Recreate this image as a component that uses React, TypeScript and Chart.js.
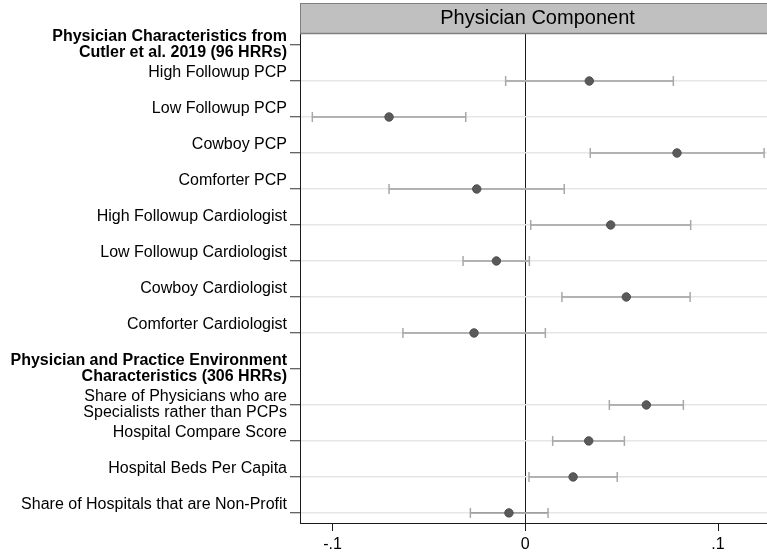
import { useEffect, useRef } from "react";
import { Chart, registerables } from "chart.js";

Chart.register(...registerables);

const FONT = '"Liberation Sans", Arial, Helvetica, sans-serif';

const panelTitle = "Physician Component";

const rowLabels: string[][] = [
  ["Physician Characteristics from", "Cutler et al. 2019 (96 HRRs)"],
  ["High Followup PCP", ""],
  ["Low Followup PCP", ""],
  ["Cowboy PCP", ""],
  ["Comforter PCP", ""],
  ["High Followup Cardiologist", ""],
  ["Low Followup Cardiologist", ""],
  ["Cowboy Cardiologist", ""],
  ["Comforter Cardiologist", ""],
  ["Physician and Practice Environment", "Characteristics (306 HRRs)"],
  ["Share of Physicians who are", "Specialists rather than PCPs"],
  ["Hospital Compare Score", ""],
  ["Hospital Beds Per Capita", ""],
  ["Share of Hospitals that are Non-Profit", ""],
];

const headerRows = [0, 9];

const estimates: (number | null)[] = [
  null, 0.0332, -0.0707, 0.0787, -0.0252, 0.0443, -0.015, 0.0524, -0.0266,
  null, 0.0628, 0.0329, 0.0248, -0.0085,
];
const lowerCI: (number | null)[] = [
  null, -0.0102, -0.1105, 0.0337, -0.0707, 0.0028, -0.0323, 0.019, -0.0635,
  null, 0.0436, 0.0142, 0.0019, -0.0285,
];
const upperCI: (number | null)[] = [
  null, 0.0768, -0.0309, 0.1239, 0.0202, 0.0858, 0.0021, 0.0855, 0.0104,
  null, 0.082, 0.0514, 0.0477, 0.0118,
];

const xTicks = [-0.1, 0, 0.1];
const xMin = -0.1169;
const xMax = 0.1254;
// the panel (and its title strip) continues slightly past the visible edge
const panelXMax = 0.1296;

const fmtTick = (v: number) =>
  v === 0 ? "0" : (v < 0 ? "-" : "") + String(Math.abs(v)).replace(/^0/, "");

const headerPlugin = {
  id: "panelHeader",
  afterDraw(chart: any) {
    const { ctx, chartArea } = chart;
    const xs = chart.scales.x;
    const w = chartArea.right - chartArea.left;
    ctx.save();
    ctx.fillStyle = "#c0c0c0";
    ctx.fillRect(chartArea.left, 3, w + 10, 31);
    ctx.strokeStyle = "#7f7f7f";
    ctx.lineWidth = 1;
    ctx.strokeRect(chartArea.left + 0.5, 3.5, w + 10, 30);
    ctx.beginPath();
    ctx.lineWidth = 1.5;
    ctx.moveTo(chartArea.left, 33.5);
    ctx.lineTo(chartArea.right + 10, 33.5);
    ctx.stroke();
    ctx.fillStyle = "#000";
    ctx.font = `20px ${FONT}`;
    ctx.textAlign = "center";
    ctx.textBaseline = "middle";
    ctx.fillText(panelTitle, xs.getPixelForValue((xMin + panelXMax) / 2), 18.5);
    ctx.restore();
  },
};

export default function App() {
  const ref = useRef<HTMLCanvasElement>(null);

  useEffect(() => {
    const canvas = ref.current!;
    const rows = rowLabels.map((_, i) => i);

    const ciLine = rows.flatMap((i) =>
      lowerCI[i] == null
        ? []
        : [
            { x: lowerCI[i], y: i },
            { x: upperCI[i], y: i },
            { x: null, y: null },
          ]
    );
    const caps = rows.flatMap((i) =>
      lowerCI[i] == null
        ? []
        : [
            { x: lowerCI[i], y: i },
            { x: upperCI[i], y: i },
          ]
    );
    const points = rows
      .filter((i) => estimates[i] != null)
      .map((i) => ({ x: estimates[i], y: i }));

    const chart = new Chart(canvas, {
      type: "scatter",
      data: {
        datasets: [
          {
            type: "scatter",
            data: points as any,
            pointRadius: 4.2,
            pointBackgroundColor: "#5a5a5a",
            pointBorderColor: "#4d4d4d",
            pointBorderWidth: 1,
            order: 0,
          },
          {
            type: "line",
            data: ciLine as any,
            borderColor: "#a0a0a0",
            borderWidth: 1.6,
            pointRadius: 0,
            spanGaps: false,
            fill: false,
            order: 2,
          } as any,
          {
            type: "scatter",
            data: caps as any,
            pointStyle: "line",
            rotation: 90,
            pointRadius: 5,
            pointBorderColor: "#a8a8a8",
            pointBorderWidth: 1.5,
            order: 1,
          } as any,
        ],
      },
      options: {
        responsive: false,
        animation: false,
        devicePixelRatio: 1,
        layout: {
          autoPadding: false,
          padding: { top: 34, left: 0, right: 0, bottom: 0 },
        },
        plugins: {
          legend: { display: false },
          tooltip: { enabled: false },
        },
        scales: {
          x: {
            type: "linear",
            min: xMin,
            max: xMax,
            afterBuildTicks: (scale: any) => {
              scale.ticks = xTicks.map((v) => ({ value: v }));
            },
            afterFit: (scale: any) => {
              scale.height = 31;
              scale.paddingRight = 0;
              scale.paddingLeft = 0;
            },
            ticks: {
              callback: (v: any) => fmtTick(Number(v)),
              color: "#000",
              font: { family: FONT, size: 16 },
              padding: 4,
              maxRotation: 0,
            },
            grid: {
              color: (ctx: any) =>
                ctx.tick && ctx.tick.value === 0 ? "#1a1a1a" : "rgba(0,0,0,0)",
              tickColor: "#1a1a1a",
              tickLength: 8,
              lineWidth: 1,
            },
            border: { display: true, color: "#1a1a1a", width: 1 },
          },
          y: {
            type: "linear",
            reverse: true,
            min: -0.306,
            max: 13.28,
            afterBuildTicks: (scale: any) => {
              scale.ticks = rowLabels.map((_, i) => ({ value: i }));
            },
            afterFit: (scale: any) => {
              scale.width = 300;
            },
            ticks: {
              autoSkip: false,
              callback: (_v: any, index: number) => rowLabels[index],
              color: "#000",
              padding: 3,
              labelOffset: -0.3,
              font: (ctx: any) => ({
                family: FONT,
                size: 16,
                lineHeight: 1.044,
                weight: headerRows.includes(ctx.index) ? "bold" : "normal",
              }),
            },
            grid: {
              color: (ctx: any) =>
                headerRows.includes(ctx.index) ? "rgba(0,0,0,0)" : "#e6e6e6",
              tickColor: "#333",
              tickWidth: 1,
              tickLength: 10,
              lineWidth: 1.5,
            },
            border: { display: true, color: "#1a1a1a", width: 1 },
          },
        },
      },
      plugins: [headerPlugin],
    });

    return () => chart.destroy();
  }, []);

  return (
    <div
      style={{
        position: "fixed",
        left: 0,
        top: 0,
        width: 767,
        height: 554,
        overflow: "hidden",
        background: "#fff",
      }}
    >
      <canvas
        ref={ref}
        width={767}
        height={554}
        style={{ display: "block", width: 767, height: 554 }}
      />
    </div>
  );
}
